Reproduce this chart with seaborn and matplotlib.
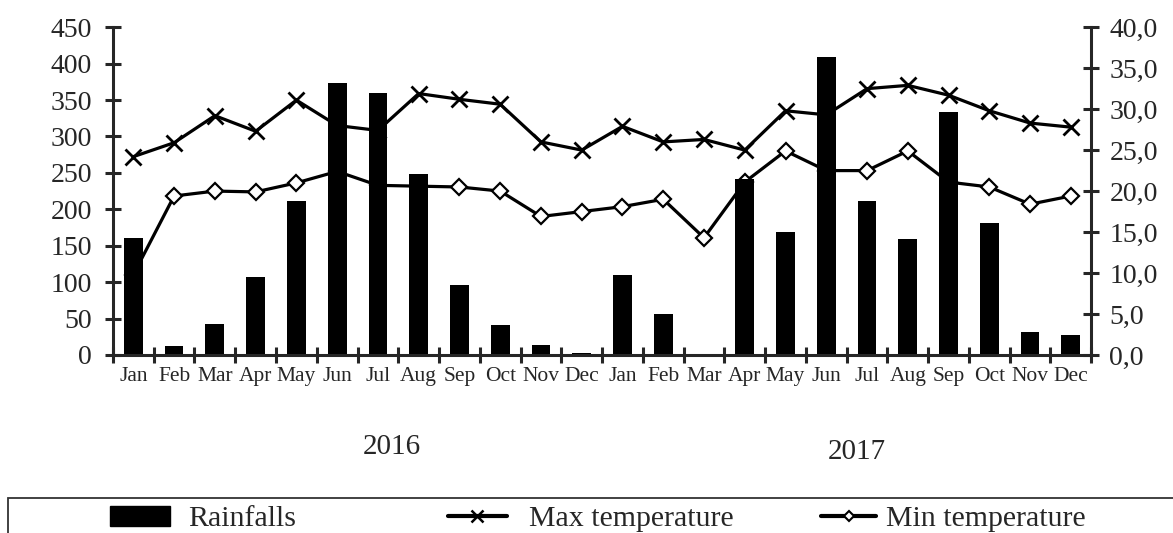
import numpy as np
import pandas as pd
import matplotlib
matplotlib.use("Agg")
import matplotlib.pyplot as plt
import seaborn as sns
from matplotlib.patches import Rectangle, Patch
from matplotlib.lines import Line2D
from matplotlib.ticker import FuncFormatter

# ---- data ----
months = ["Jan", "Feb", "Mar", "Apr", "May", "Jun", "Jul", "Aug", "Sep", "Oct", "Nov", "Dec"] * 2
years = ["2016", "2017"]
rainfall = [160, 13, 42, 107, 211, 373, 359, 249, 96, 41, 14, 3,
            110, 56, 0, 241, 169, 409, 211, 159, 334, 181, 31, 27]
max_temp = [24.2, 25.9, 29.2, 27.3, 31.1, 28.0, 27.4, 31.9, 31.2, 30.6, 26.0, 25.0,
            27.9, 26.0, 26.3, 25.0, 29.8, 29.3, 32.5, 32.9, 31.7, 29.8, 28.3, 27.8]
min_temp = [9.8, 19.4, 20.0, 19.9, 21.0, 22.4, 20.7, 20.6, 20.5, 20.0, 16.9, 17.5,
            18.1, 19.0, 14.3, 21.1, 24.9, 22.5, 22.5, 24.9, 21.1, 20.5, 18.4, 19.4]
rain_ticks = list(range(0, 451, 50))
temp_ticks = list(range(0, 41, 5))

sns.set_style("ticks")
plt.rcParams["font.family"] = ["Liberation Serif", "DejaVu Serif"]

df = pd.DataFrame({"idx": np.arange(len(months)), "rain": rainfall,
                   "tmax": max_temp, "tmin": min_temp})

fig = plt.figure(figsize=(11.73, 5.33), dpi=100)
ax = fig.add_axes([0.0963, 0.334, 0.834, 0.615])
ax2 = ax.twinx()

sns.barplot(data=df, x="idx", y="rain", color="black", saturation=1,
            width=0.46, ax=ax, edgecolor="none")
sns.lineplot(data=df, x="idx", y="tmax", ax=ax2, color="black", lw=2.3,
             marker="x", markersize=12, markeredgewidth=2.0, markeredgecolor="black")
sns.lineplot(data=df, x="idx", y="tmin", ax=ax2, color="black", lw=2.3,
             marker="D", markersize=8, markerfacecolor="white",
             markeredgecolor="black", markeredgewidth=1.6)

# bars above lines
ax.set_zorder(ax2.get_zorder() + 1)
ax.patch.set_visible(False)

ax.set_xlim(-0.5, len(months) - 0.5)
ax.set_ylim(0, 450)
ax2.set_ylim(0, 40)
ax.set_xlabel("")
ax.set_ylabel("")
ax2.set_xlabel("")
ax2.set_ylabel("")

ax.set_xticks(np.arange(-0.5, len(months), 1))
ax.set_xticklabels([])
ax.set_xticks(np.arange(len(months)), minor=True)
ax.set_xticklabels(months, minor=True)
ax.tick_params(axis="x", which="minor", length=0, pad=9, labelsize=15.5)
ax.tick_params(axis="x", which="major", direction="inout", length=11, width=2.2)

ax.set_yticks(rain_ticks)
ax.tick_params(axis="y", direction="inout", length=12, width=2.2, pad=9, labelsize=20)
ax2.set_yticks(temp_ticks)
ax2.yaxis.set_major_formatter(FuncFormatter(lambda v, p: f"{v:.1f}".replace(".", ",")))
ax2.tick_params(axis="y", direction="inout", length=12, width=2.2, pad=7, labelsize=20)

for s in ["top", "right"]:
    ax.spines[s].set_visible(False)
for s in ["left", "bottom"]:
    ax.spines[s].set_linewidth(2.2)
for s in ["top", "left", "bottom"]:
    ax2.spines[s].set_visible(False)
ax2.spines["right"].set_linewidth(2.2)

# year labels
fig.text(392 / 1173, 1 - 447 / 533, years[0], ha="center", va="center", fontsize=21)
fig.text(857 / 1173, 1 - 452 / 533, years[1], ha="center", va="center", fontsize=21)

# legend frame (clipped by figure edge)
fig.add_artist(Rectangle((8 / 1173, -0.2), 1.2, 0.2 + (1 - 498 / 533),
                         transform=fig.transFigure, fill=False, lw=1.3,
                         edgecolor="#333333"))

ly = 1 - 519 / 533
h_rain = Patch(facecolor="black", edgecolor="black")
h_max = Line2D([], [], color="black", lw=3, marker="x", markersize=9, markeredgewidth=1.8)
h_min = Line2D([], [], color="black", lw=3, marker="D", markersize=5,
               markerfacecolor="white", markeredgecolor="black", markeredgewidth=1.5)
for h, lab, x0, hl, tp in [(h_rain, "Rainfalls", 110, 2.0, 0.6),
                           (h_max, "Max temperature", 448, 1.97, 0.75),
                           (h_min, "Min temperature", 821, 1.85, 0.33)]:
    fig.legend([h], [lab], loc="center left", bbox_to_anchor=(x0 / 1173, ly),
               bbox_transform=fig.transFigure, frameon=False, fontsize=21.5,
               handlelength=hl, handletextpad=tp, borderpad=0, borderaxespad=0)

fig.savefig("out.png", dpi=100)
